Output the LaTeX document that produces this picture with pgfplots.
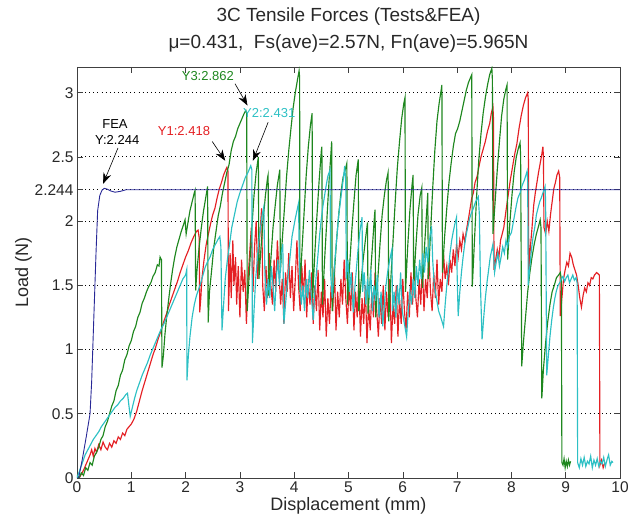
\documentclass[border=0pt]{standalone}
\usepackage{fontspec}
\setmainfont{Liberation Sans}
\usepackage{pgfplots}
\pgfplotsset{compat=1.18}
\usetikzlibrary{arrows.meta}
\definecolor{mgreen}{RGB}{30,135,30}
\definecolor{mred}{RGB}{228,32,36}
\definecolor{mcyan}{RGB}{45,192,196}
\definecolor{mblue}{RGB}{40,40,150}
\definecolor{txt}{RGB}{40,40,40}
\begin{document}
\begin{tikzpicture}
\begin{axis}[
  scale only axis, width=543pt, height=411pt,
  at={(0,0)}, anchor=south west,
  xmin=0, xmax=10, ymin=0, ymax=3.2,
  xtick={0,1,2,3,4,5,6,7,8,9,10},
  xticklabels={0,1,2,3,4,5,6,7,8,9,10},
  ytick={0,0.5,1,1.5,2,2.244,2.5,3},
  yticklabels={0,0.5,1,1.5,2,2.244,2.5,3},
  tick align=inside, major tick length=6pt,
  tick style={draw=black!75, line width=0.6pt},
  axis line style={draw=black!75, line width=0.8pt},
  ymajorgrids,
  grid style={draw=black, line width=0.9pt, dash pattern=on 0.9pt off 3.2pt},
  ticklabel style={font=\fontsize{15.5}{15.5}\selectfont, text=txt},
  xlabel={Displacement (mm)}, ylabel={Load (N)},
  label style={font=\fontsize{18}{20}\selectfont, text=txt},
  xlabel style={yshift=2pt},
  ylabel style={yshift=-4pt},
  title={3C Tensile Forces (Tests\&FEA)\\μ=0.431,\ \ Fs(ave)=2.57N, Fn(ave)=5.965N},
  title style={align=center, font=\fontsize{19}{27}\selectfont, text=txt, at={(0.5,1)}, anchor=south, yshift=5pt},
  every axis plot/.append style={line width=1.15pt, mark=none},
]
% Y1 red
\addplot[mred] coordinates {
(0.04,0.00)(0.08,0.03)(0.12,0.06)(0.16,0.10)(0.20,0.14)(0.24,0.18)(0.27,0.22)(0.30,0.17)(0.33,0.23)(0.36,0.20)(0.40,0.26)(0.44,0.22)(0.48,0.28)(0.52,0.24)(0.56,0.22)(0.60,0.27)(0.64,0.24)(0.68,0.29)(0.72,0.27)(0.76,0.32)(0.80,0.30)(0.84,0.35)(0.88,0.33)(0.92,0.38)(0.96,0.40)
(1.00,0.42)(1.05,0.46)(1.10,0.52)(1.15,0.60)(1.20,0.68)(1.25,0.75)(1.30,0.82)(1.35,0.89)(1.40,0.96)(1.45,1.02)(1.50,1.09)(1.55,1.15)(1.60,1.22)(1.65,1.28)(1.70,1.35)(1.75,1.41)(1.80,1.47)(1.85,1.53)(1.90,1.60)(1.95,1.66)(2.00,1.72)(2.05,1.77)(2.10,1.83)(2.15,1.88)(2.20,1.92)(2.23,1.93)(2.25,1.87)(2.26,1.29)
(2.28,1.40)(2.30,1.55)(2.34,1.70)(2.38,1.82)(2.42,1.90)(2.46,1.98)(2.50,2.05)(2.54,2.10)(2.58,2.18)(2.62,2.25)(2.66,2.30)(2.70,2.36)(2.74,2.40)(2.76,2.418)(2.78,2.39)(2.79,1.30)
(2.82,1.75)(2.84,1.40)(2.87,1.85)(2.89,1.50)(2.92,1.72)(2.94,1.35)(2.97,1.65)(3.00,1.25)(3.03,1.70)(3.06,1.45)(3.09,1.62)(3.12,1.20)(3.15,1.55)(3.18,1.75)(3.21,1.95)(3.24,1.45)(3.27,1.80)(3.30,2.00)(3.33,1.55)(3.36,1.85)(3.40,2.10)(3.42,1.50)(3.45,1.30)(3.48,1.65)(3.51,1.40)(3.54,1.75)(3.57,1.50)(3.60,1.35)(3.63,1.70)(3.66,1.45)(3.69,1.85)(3.72,1.60)(3.75,1.35)(3.78,1.55)(3.81,1.20)(3.84,1.60)(3.87,1.45)(3.90,1.75)(3.93,1.40)(3.96,1.65)(3.99,1.30)
(4.02,1.55)(4.05,1.85)(4.08,1.50)(4.11,1.30)(4.14,1.65)(4.17,1.40)(4.20,1.70)(4.23,1.25)(4.26,1.55)(4.29,1.35)(4.32,1.60)(4.35,1.20)(4.38,1.50)(4.41,1.30)(4.44,1.62)(4.47,1.15)(4.50,1.45)(4.53,1.25)(4.56,1.55)(4.59,1.10)(4.62,1.40)(4.65,1.20)(4.68,1.50)(4.71,1.30)(4.74,1.65)(4.77,1.15)(4.80,1.45)(4.83,1.25)(4.86,1.55)(4.89,1.35)(4.92,1.70)(4.95,1.40)(4.98,1.20)
(5.01,1.50)(5.04,1.30)(5.07,1.60)(5.10,1.15)(5.13,1.45)(5.16,1.25)(5.19,1.55)(5.22,1.10)(5.25,1.40)(5.28,1.20)(5.31,1.50)(5.34,1.05)(5.37,1.35)(5.40,1.15)(5.43,1.45)(5.46,1.25)(5.49,1.60)(5.52,1.30)(5.55,1.10)(5.58,1.40)(5.61,1.20)(5.64,1.50)(5.67,1.15)(5.70,1.45)(5.73,1.25)(5.76,1.55)(5.79,1.05)(5.82,1.35)(5.85,1.20)(5.88,1.50)(5.91,1.10)(5.94,1.40)(5.97,1.20)
(6.00,1.55)(6.03,1.30)(6.06,1.15)(6.09,1.45)(6.12,1.25)(6.15,1.60)(6.18,1.35)(6.21,1.70)(6.24,1.40)(6.27,1.25)(6.30,1.55)(6.33,1.35)(6.36,1.65)(6.39,1.30)(6.42,1.55)(6.45,1.40)(6.48,1.75)(6.51,1.45)(6.54,1.30)(6.57,1.60)(6.60,1.40)(6.63,1.70)(6.66,1.35)(6.69,1.55)(6.72,1.45)(6.75,1.75)(6.78,1.55)(6.81,1.65)(6.84,1.50)(6.87,1.70)(6.90,1.60)(6.93,1.78)(6.96,1.65)(6.99,1.82)
(7.02,1.72)(7.05,1.85)(7.08,1.78)(7.11,1.90)(7.14,1.84)(7.18,1.95)(7.21,2.02)(7.24,2.10)(7.27,2.18)(7.30,2.22)(7.33,2.30)(7.37,2.35)(7.40,2.42)(7.44,2.50)(7.48,2.56)(7.52,2.62)(7.56,2.70)(7.60,2.76)(7.63,2.84)(7.66,2.89)(7.67,2.80)(7.68,1.62)
(7.71,1.70)(7.74,1.78)(7.77,1.72)(7.80,1.85)(7.83,1.90)(7.86,1.95)(7.90,2.08)(7.94,2.20)(7.98,2.32)(8.02,2.42)(8.06,2.52)(8.10,2.60)(8.14,2.72)(8.18,2.82)(8.22,2.90)(8.26,2.96)(8.30,3.00)(8.31,2.95)(8.32,1.60)
(8.35,1.80)(8.38,1.95)(8.41,2.12)(8.44,2.22)(8.47,2.30)(8.50,2.38)(8.53,2.45)(8.56,2.52)(8.58,2.58)(8.59,2.50)(8.60,1.95)(8.63,1.90)(8.66,2.00)(8.69,1.92)(8.72,2.05)(8.75,2.15)(8.78,2.25)(8.81,2.30)(8.84,2.36)(8.87,2.39)(8.89,2.34)(8.90,1.26)
(8.93,1.40)(8.96,1.55)(8.99,1.62)(9.02,1.68)(9.05,1.65)(9.08,1.75)(9.11,1.72)(9.14,1.66)(9.17,1.62)(9.20,1.58)(9.23,1.50)(9.26,1.40)(9.29,1.33)(9.32,1.42)(9.35,1.48)(9.38,1.45)(9.41,1.52)(9.44,1.50)(9.47,1.56)(9.50,1.55)(9.53,1.58)(9.57,1.60)(9.62,1.58)(9.63,0.10)(9.66,0.14)(9.69,0.08)(9.72,0.12)
};
% Y3 green
\addplot[mgreen] coordinates {
(0.00,0.02)(0.04,0.00)(0.08,0.04)(0.12,0.02)(0.16,0.08)(0.20,0.06)(0.24,0.12)(0.28,0.10)(0.32,0.17)(0.36,0.20)(0.40,0.24)(0.44,0.30)(0.48,0.33)(0.52,0.40)(0.56,0.44)(0.60,0.50)(0.64,0.56)(0.68,0.60)(0.72,0.68)(0.76,0.72)(0.80,0.80)(0.84,0.84)(0.88,0.92)(0.92,0.96)(0.96,1.03)(1.00,1.07)(1.04,1.14)(1.08,1.18)(1.12,1.25)(1.16,1.29)(1.20,1.36)(1.24,1.40)(1.28,1.45)(1.32,1.49)(1.36,1.52)(1.40,1.57)(1.44,1.60)(1.48,1.66)(1.51,1.65)(1.53,1.72)(1.555,1.70)(1.565,0.86)
(1.59,0.95)(1.62,1.12)(1.65,1.25)(1.68,1.36)(1.72,1.50)(1.76,1.62)(1.80,1.72)(1.84,1.80)(1.88,1.86)(1.92,1.92)(1.96,1.97)(1.99,2.01)(2.01,1.90)(2.04,1.98)(2.08,2.08)(2.12,2.15)(2.16,2.22)(2.175,2.24)(2.185,1.46)
(2.21,1.62)(2.25,1.80)(2.29,1.95)(2.33,2.08)(2.37,2.18)(2.405,2.27)(2.415,1.21)(2.44,1.45)(2.48,1.62)(2.52,1.80)(2.56,1.92)(2.60,2.04)(2.64,2.12)(2.68,2.22)(2.72,2.30)(2.76,2.38)(2.80,2.44)(2.84,2.55)(2.88,2.62)(2.92,2.66)(2.96,2.72)(3.00,2.76)(3.04,2.80)(3.08,2.84)(3.11,2.862)(3.125,2.84)(3.135,1.30)
(3.18,1.65)(3.22,1.95)(3.26,2.20)(3.30,2.38)(3.34,2.50)(3.35,1.55)(3.39,1.80)(3.43,2.02)(3.47,2.20)(3.51,2.34)(3.52,2.36)(3.53,1.42)(3.57,1.70)(3.61,1.95)(3.65,2.12)(3.69,2.28)(3.735,2.40)(3.745,1.60)(3.78,1.85)(3.82,2.10)(3.86,2.35)(3.90,2.55)(3.94,2.72)(3.98,2.88)(4.02,3.00)(4.06,3.10)(4.09,3.17)(4.10,3.12)(4.105,1.45)
(4.14,1.75)(4.18,2.05)(4.22,2.35)(4.26,2.58)(4.30,2.75)(4.33,2.84)(4.34,1.40)(4.38,1.75)(4.42,2.05)(4.46,2.32)(4.50,2.55)(4.51,2.58)(4.52,1.35)(4.56,1.70)(4.60,2.00)(4.64,2.30)(4.68,2.55)(4.69,2.62)(4.70,1.30)(4.74,1.60)(4.78,1.85)(4.82,2.05)(4.86,2.22)(4.90,2.34)(4.94,2.40)(4.97,2.45)(4.98,1.35)
(5.02,1.65)(5.06,1.92)(5.10,2.15)(5.14,2.36)(5.18,2.48)(5.19,1.30)(5.23,1.52)(5.27,1.70)(5.31,1.85)(5.35,1.99)(5.36,1.28)(5.40,1.55)(5.44,1.80)(5.48,2.05)(5.49,2.09)(5.50,1.25)(5.54,1.55)(5.58,1.82)(5.62,2.05)(5.66,2.20)(5.70,2.32)(5.73,2.38)(5.74,1.22)
(5.78,1.55)(5.82,1.85)(5.86,2.15)(5.90,2.42)(5.94,2.62)(5.98,2.80)(6.02,2.92)(6.04,2.96)(6.05,1.45)(6.09,1.80)(6.13,2.08)(6.17,2.28)(6.19,2.36)(6.20,1.50)(6.24,1.80)(6.28,2.05)(6.32,2.20)(6.35,2.26)(6.36,1.48)(6.40,1.80)(6.44,2.08)(6.46,2.22)(6.47,1.55)
(6.51,1.90)(6.55,2.25)(6.59,2.55)(6.63,2.78)(6.67,2.92)(6.71,3.03)(6.72,3.06)(6.73,1.60)(6.77,1.88)(6.81,2.10)(6.85,2.30)(6.89,2.45)(6.93,2.58)(6.97,2.68)(7.01,2.72)(7.05,2.78)(7.09,2.86)(7.13,2.94)(7.17,3.02)(7.21,3.08)(7.25,3.12)(7.27,3.14)(7.28,1.49)
(7.32,1.85)(7.36,2.20)(7.40,2.48)(7.44,2.68)(7.48,2.84)(7.52,2.96)(7.56,3.06)(7.60,3.14)(7.64,3.19)(7.65,3.10)(7.66,1.90)(7.70,2.15)(7.74,2.40)(7.78,2.62)(7.82,2.82)(7.86,2.95)(7.90,3.03)(7.92,3.06)(7.93,1.70)
(7.97,1.98)(8.01,2.20)(8.05,2.38)(8.09,2.50)(8.13,2.57)(8.16,2.61)(8.17,2.50)(8.19,0.87)(8.22,1.05)(8.26,1.25)(8.30,1.45)(8.34,1.60)(8.38,1.72)(8.42,1.82)(8.46,1.90)(8.50,1.96)(8.53,2.01)(8.545,1.95)(8.56,0.62)
(8.59,0.85)(8.63,1.05)(8.67,1.22)(8.71,1.35)(8.75,1.45)(8.79,1.50)(8.83,1.56)(8.87,1.58)(8.90,1.60)(8.92,1.55)(8.93,0.12)(8.95,0.10)(8.97,0.15)(8.99,0.08)(9.01,0.13)(9.03,0.09)(9.05,0.14)(9.07,0.10)(9.09,0.13)
};
% Y2 cyan
\addplot[mcyan] coordinates {
(0.00,0.00)(0.05,0.06)(0.10,0.12)(0.15,0.18)(0.20,0.22)(0.25,0.26)(0.30,0.30)(0.35,0.33)(0.40,0.36)(0.45,0.40)(0.50,0.43)(0.55,0.46)(0.60,0.49)(0.65,0.52)(0.70,0.55)(0.75,0.57)(0.80,0.60)(0.85,0.62)(0.90,0.65)(0.93,0.66)(0.96,0.55)(0.98,0.48)
(1.02,0.55)(1.06,0.62)(1.10,0.68)(1.15,0.74)(1.20,0.80)(1.25,0.85)(1.30,0.90)(1.35,0.96)(1.40,1.01)(1.45,1.06)(1.50,1.11)(1.55,1.16)(1.60,1.20)(1.65,1.25)(1.70,1.30)(1.75,1.35)(1.80,1.40)(1.85,1.45)(1.90,1.50)(1.95,1.55)(2.00,1.58)(2.02,1.62)(2.025,0.76)
(2.05,0.95)(2.08,1.10)(2.12,1.25)(2.16,1.35)(2.20,1.42)(2.24,1.47)(2.28,1.52)(2.32,1.58)(2.36,1.64)(2.40,1.68)(2.45,1.72)(2.50,1.78)(2.55,1.82)(2.60,1.86)(2.63,1.88)(2.65,1.80)(2.67,1.15)
(2.70,1.35)(2.73,1.55)(2.77,1.70)(2.81,1.82)(2.85,1.95)(2.90,2.05)(2.95,2.15)(3.00,2.22)(3.05,2.28)(3.10,2.34)(3.15,2.38)(3.20,2.431)(3.22,2.40)(3.23,1.05)
(3.26,1.30)(3.29,1.55)(3.32,1.70)(3.35,1.85)(3.38,1.95)(3.41,2.05)(3.44,2.11)(3.46,1.60)(3.49,1.35)(3.52,1.55)(3.55,1.40)(3.58,1.65)(3.61,1.50)(3.64,1.30)(3.67,1.55)(3.70,1.70)(3.73,1.50)(3.76,1.75)(3.79,1.82)(3.81,1.20)
(3.84,1.35)(3.87,1.50)(3.90,1.62)(3.93,1.75)(3.96,1.88)(3.99,1.95)(4.02,2.02)(4.05,2.08)(4.08,2.14)(4.10,1.55)(4.13,1.35)(4.16,1.50)(4.19,1.30)(4.22,1.55)(4.25,1.40)(4.28,1.62)(4.31,1.45)(4.35,1.23)
(4.38,1.45)(4.41,1.60)(4.44,1.75)(4.47,1.90)(4.50,2.02)(4.53,2.12)(4.56,2.20)(4.59,2.28)(4.62,2.35)(4.66,2.40)(4.67,1.60)(4.70,1.40)(4.73,1.60)(4.76,1.75)(4.79,1.90)(4.82,2.05)(4.85,2.15)(4.88,2.25)(4.91,2.35)(4.93,2.43)(4.95,2.30)(4.96,1.55)
(4.99,1.70)(5.02,1.45)(5.05,1.60)(5.09,1.29)(5.12,1.50)(5.15,1.65)(5.18,1.80)(5.21,1.92)(5.25,2.03)(5.26,1.45)(5.29,1.60)(5.32,1.35)(5.35,1.55)(5.38,1.40)(5.41,1.62)(5.44,1.30)(5.47,1.50)(5.50,1.38)(5.53,1.58)(5.56,1.25)(5.60,1.45)(5.63,1.18)
(5.66,1.35)(5.69,1.50)(5.72,1.60)(5.76,1.70)(5.80,1.78)(5.81,1.30)(5.84,1.45)(5.87,1.25)(5.90,1.50)(5.93,1.35)(5.96,1.60)(5.99,1.30)(6.03,1.20)(6.07,1.10)
(6.10,1.30)(6.13,1.45)(6.16,1.35)(6.19,1.55)(6.22,1.40)(6.25,1.65)(6.28,1.50)(6.31,1.70)(6.34,1.55)(6.37,1.75)(6.40,1.60)(6.43,1.80)(6.46,1.68)(6.50,1.88)(6.53,1.96)(6.55,1.70)(6.58,1.50)(6.62,1.40)(6.66,1.30)(6.70,1.25)(6.75,1.18)
(6.78,1.35)(6.81,1.50)(6.84,1.62)(6.87,1.75)(6.90,1.85)(6.93,1.92)(6.96,1.98)(6.99,2.03)(7.00,1.60)(7.02,1.26)(7.05,1.45)(7.08,1.60)(7.11,1.72)(7.14,1.82)(7.17,1.90)(7.20,1.96)(7.23,2.02)(7.26,2.06)(7.30,2.10)(7.34,2.15)(7.39,2.19)(7.41,2.05)(7.43,1.50)(7.46,1.08)
(7.49,1.25)(7.52,1.40)(7.55,1.52)(7.58,1.62)(7.61,1.72)(7.64,1.78)(7.66,1.82)(7.69,1.60)(7.72,1.68)(7.75,1.75)(7.78,1.65)(7.81,1.72)(7.84,1.80)(7.87,1.75)(7.90,1.85)(7.93,1.80)(7.96,1.88)(8.00,1.91)(8.03,1.98)(8.06,2.05)(8.09,2.12)(8.12,2.18)(8.16,2.22)(8.20,2.28)(8.24,2.32)(8.29,2.39)(8.30,2.30)(8.31,1.50)
(8.34,1.65)(8.37,1.78)(8.40,1.88)(8.43,1.95)(8.46,2.05)(8.49,2.10)(8.52,2.15)(8.55,2.18)(8.58,2.22)(8.62,2.27)(8.63,2.15)(8.65,0.80)
(8.68,0.95)(8.71,1.10)(8.74,1.22)(8.77,1.32)(8.80,1.40)(8.83,1.46)(8.86,1.50)(8.89,1.52)(8.92,1.55)(8.95,1.57)(8.98,1.53)(9.01,1.56)(9.04,1.58)(9.07,1.52)(9.10,1.55)(9.13,1.58)(9.16,1.54)(9.19,1.56)(9.21,1.52)(9.22,0.12)
(9.25,0.08)(9.28,0.15)(9.31,0.10)(9.34,0.16)(9.37,0.09)(9.40,0.13)(9.43,0.11)(9.46,0.17)(9.49,0.08)(9.52,0.14)(9.55,0.10)(9.58,0.15)(9.61,0.09)(9.64,0.13)(9.67,0.11)(9.70,0.16)(9.73,0.09)(9.76,0.14)(9.79,0.18)(9.82,0.10)(9.85,0.13)(9.87,0.12)
};
% FEA blue
\addplot[mblue, line width=0.9pt] coordinates {
(0.00,0.00)(0.03,0.00)(0.10,0.15)(0.17,0.32)(0.24,0.50)(0.27,0.75)(0.29,1.00)(0.31,1.25)(0.33,1.50)(0.35,1.75)(0.38,2.08)(0.42,2.20)(0.46,2.24)(0.50,2.255)(0.55,2.25)(0.62,2.235)(0.70,2.225)(0.80,2.232)(0.90,2.244)(10.00,2.244)
};
% annotations
\node[font=\fontsize{13}{13}\selectfont, text=black] at (axis cs:0.70,2.755) {FEA};
\node[font=\fontsize{13}{13}\selectfont, text=black] at (axis cs:0.74,2.635) {Y:2.244};
\draw[-{Stealth[length=11pt,width=8pt]}, line width=0.6pt] (axis cs:0.755,2.57) -- (axis cs:0.48,2.29);
\node[font=\fontsize{13}{13}\selectfont, text=mred] at (axis cs:1.97,2.70) {Y1:2.418};
\draw[-{Stealth[length=11pt,width=8pt]}, line width=0.6pt] (axis cs:2.49,2.62) -- (axis cs:2.73,2.47);
\node[font=\fontsize{13}{13}\selectfont, text=mcyan] at (axis cs:3.54,2.845) {Y2:2.431};
\draw[-{Stealth[length=11pt,width=8pt]}, line width=0.6pt] (axis cs:3.52,2.77) -- (axis cs:3.24,2.47);
\node[font=\fontsize{13}{13}\selectfont, text=mgreen] at (axis cs:2.41,3.13) {Y3:2.862};
\draw[-{Stealth[length=11pt,width=8pt]}, line width=0.6pt] (axis cs:2.91,3.07) -- (axis cs:3.14,2.90);
\end{axis}
\pgfresetboundingbox
\useasboundingbox (-77pt,-49pt) rectangle (552pt,478pt);
\end{tikzpicture}
\end{document}
